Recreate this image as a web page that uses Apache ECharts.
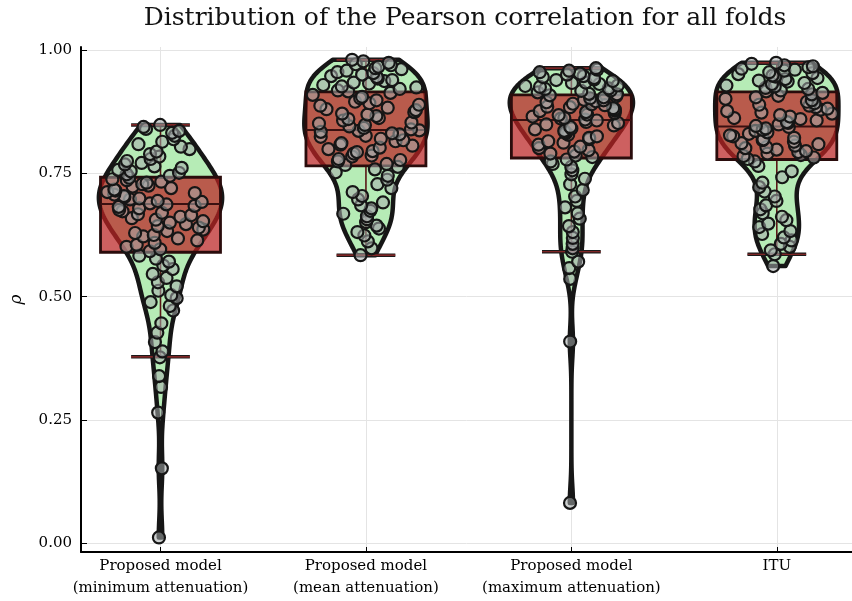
<!DOCTYPE html>
<html>
<head>
<meta charset="utf-8">
<script src="https://cdn.jsdelivr.net/npm/echarts@6/dist/echarts.min.js"></script>
<style>
  html, body { margin: 0; padding: 0; background: #fff; }
  #chart { width: 852px; height: 601px; }
</style>
</head>
<body>
<div id="chart"></div>
<script>
// categories (x axis, two-line labels)
const categories = [
    'Proposed model\n(minimum attenuation)',
    'Proposed model\n(mean attenuation)',
    'Proposed model\n(maximum attenuation)',
    'ITU'
];

const yTicks = [0, 0.25, 0.5, 0.75, 1.0];

// pearson rho per fold
const rhoMin = [
    0.012, 0.152, 0.265, 0.317, 0.339, 0.377, 0.389, 0.408, 0.427, 0.446,
    0.472, 0.481, 0.489, 0.497, 0.503, 0.512, 0.521, 0.529, 0.538, 0.546,
    0.556, 0.563, 0.571, 0.577, 0.583,
    0.592, 0.596, 0.601, 0.605, 0.609, 0.614, 0.618,
    0.622, 0.625, 0.629, 0.633, 0.636, 0.64, 0.643, 0.647, 0.65, 0.653, 0.656, 0.659,
    0.662, 0.665, 0.667, 0.67, 0.673, 0.676, 0.679, 0.682, 0.684, 0.687, 0.689, 0.692, 0.694, 0.697, 0.699,
    0.702, 0.704, 0.707, 0.71, 0.712, 0.715, 0.717, 0.72, 0.723, 0.725, 0.728, 0.731, 0.733, 0.736, 0.738, 0.741,
    0.745, 0.748, 0.751, 0.754, 0.757, 0.761, 0.764, 0.768, 0.771, 0.775, 0.779,
    0.784, 0.789, 0.794, 0.799, 0.804, 0.809, 0.814, 0.819,
    0.826, 0.832, 0.836, 0.84, 0.844, 0.848
];

const rhoMean = [
    0.584, 0.598, 0.612,
    0.624, 0.631, 0.638, 0.644, 0.651, 0.657,
    0.663, 0.668, 0.674, 0.679, 0.685, 0.691, 0.697,
    0.704, 0.712, 0.72, 0.728, 0.737, 0.745, 0.752, 0.758, 0.763,
    0.767, 0.769, 0.774, 0.777, 0.779, 0.784, 0.786, 0.79, 0.793, 0.795, 0.799, 0.802, 0.806,
    0.808, 0.811, 0.815, 0.817, 0.82, 0.824, 0.826, 0.829, 0.831, 0.834, 0.836, 0.837,
    0.839, 0.842, 0.845, 0.848, 0.851, 0.853, 0.857, 0.86, 0.862, 0.866, 0.869, 0.871, 0.874,
    0.878, 0.88, 0.883, 0.887, 0.889, 0.892, 0.895, 0.898, 0.902, 0.905, 0.909, 0.913,
    0.916, 0.918, 0.921, 0.924, 0.926, 0.929, 0.932, 0.934, 0.937, 0.939, 0.942, 0.945, 0.947,
    0.95, 0.953, 0.955, 0.958, 0.961, 0.963, 0.966, 0.969, 0.971, 0.974, 0.977, 0.98
];

const rhoMax = [
    0.082, 0.409, 0.536, 0.558, 0.571,
    0.591, 0.598, 0.607, 0.619, 0.631, 0.643, 0.658, 0.669, 0.681, 0.694, 0.703,
    0.716, 0.728, 0.739, 0.748, 0.756, 0.763, 0.769, 0.774, 0.778,
    0.783, 0.786, 0.79, 0.794, 0.797, 0.801, 0.804, 0.808, 0.812, 0.815, 0.819,
    0.822, 0.825, 0.828, 0.831, 0.833, 0.836, 0.839, 0.841, 0.844, 0.847, 0.849, 0.852, 0.854, 0.857, 0.859,
    0.861, 0.862, 0.865, 0.868, 0.869, 0.872, 0.874, 0.876, 0.877, 0.88, 0.882, 0.884,
    0.885, 0.888, 0.89, 0.891, 0.894, 0.896, 0.898, 0.899, 0.902, 0.904, 0.906, 0.908,
    0.91, 0.911, 0.914, 0.917, 0.918, 0.921, 0.922, 0.925, 0.927, 0.928, 0.931, 0.933, 0.934,
    0.937, 0.939, 0.94, 0.943, 0.945, 0.947, 0.95, 0.952, 0.955, 0.958, 0.96, 0.963
];

const rhoItu = [
    0.562, 0.586, 0.594, 0.601, 0.607, 0.614, 0.62, 0.627, 0.633, 0.641, 0.648, 0.655,
    0.662, 0.669, 0.677, 0.685, 0.694, 0.703, 0.713, 0.722, 0.731, 0.742, 0.754, 0.765, 0.774,
    0.779, 0.782, 0.785, 0.787, 0.79, 0.793, 0.795, 0.798, 0.801, 0.803, 0.806, 0.809, 0.811,
    0.814, 0.817, 0.819, 0.822, 0.825, 0.827, 0.83, 0.833, 0.836, 0.838, 0.841, 0.844,
    0.846, 0.849, 0.852, 0.854, 0.857, 0.86, 0.862, 0.865, 0.868, 0.871, 0.873, 0.876, 0.879,
    0.881, 0.884, 0.887, 0.889, 0.892, 0.895, 0.898, 0.901, 0.904, 0.907, 0.91, 0.913,
    0.916, 0.918, 0.921, 0.923, 0.926, 0.928, 0.931, 0.933, 0.936, 0.938, 0.941, 0.943, 0.946,
    0.948, 0.951, 0.953, 0.955, 0.958, 0.96, 0.962, 0.965, 0.967, 0.969, 0.972, 0.974
];

// box stats [lower whisker, q1, median, q3, upper whisker]
const boxMin = [0.378, 0.590, 0.688, 0.742, 0.848];
const boxMean = [0.584, 0.765, 0.838, 0.915, 0.980];
const boxMax = [0.591, 0.781, 0.858, 0.909, 0.963];
const boxItu = [0.586, 0.778, 0.845, 0.915, 0.974];

const groups = [rhoMin, rhoMean, rhoMax, rhoItu];
const boxes = [boxMin, boxMean, boxMax, boxItu];

const FONT = '"DejaVu Serif", serif';
const VIOLIN_HALF = 0.3;
const BOX_HALF = 0.292;
const CAP_HALF = 0.143;

function quantile(sorted, p) {
    const pos = (sorted.length - 1) * p;
    const lo = Math.floor(pos), hi = Math.ceil(pos);
    return sorted[lo] + (sorted[hi] - sorted[lo]) * (pos - lo);
}

// gaussian kde, silverman bandwidth, trimmed to the data range
function kdeProfile(vals) {
    const s = vals.slice().sort((a, b) => a - b);
    const n = s.length;
    const mean = s.reduce((a, b) => a + b, 0) / n;
    const sd = Math.sqrt(s.reduce((a, b) => a + (b - mean) * (b - mean), 0) / (n - 1));
    const iqr = quantile(s, 0.75) - quantile(s, 0.25);
    const h = 0.9 * Math.min(sd, iqr / 1.34) * Math.pow(n, -0.2);
    const lo = s[0], hi = s[n - 1];
    const ys = [], ds = [];
    for (let k = 0; k < 200; k++) {
        const y = lo + (hi - lo) * k / 199;
        let d = 0;
        s.forEach(v => { const z = (y - v) / h; d += Math.exp(-0.5 * z * z); });
        ys.push(y);
        ds.push(d);
    }
    const m = Math.max(...ds);
    return { ys: ys, ws: ds.map(d => VIOLIN_HALF * d / m) };
}

function widthAt(prof, y) {
    const ys = prof.ys;
    if (y <= ys[0]) return prof.ws[0];
    if (y >= ys[ys.length - 1]) return prof.ws[ys.length - 1];
    const t = (y - ys[0]) / (ys[ys.length - 1] - ys[0]) * (ys.length - 1);
    const k = Math.floor(t);
    return prof.ws[k] + (prof.ws[k + 1] - prof.ws[k]) * (t - k);
}

const profiles = groups.map(kdeProfile);

// dots spread sideways inside the violin (fixed hash, same every run)
function spread(i, j) {
    const h = Math.sin(j * 12.9898 + i * 78.233) * 43758.5453;
    return h - Math.floor(h);
}

const dots = [];
groups.forEach((vals, i) => {
    vals.forEach((v, j) => {
        const off = (2 * spread(i, j) - 1) * widthAt(profiles[i], v) * 0.9;
        dots.push([i + off, v]);
    });
});

function renderViolin(params, api) {
    const i = api.value(0);
    const prof = profiles[i];
    const pts = [];
    for (let k = 0; k < prof.ys.length; k++) pts.push(api.coord([i + prof.ws[k], prof.ys[k]]));
    for (let k = prof.ys.length - 1; k >= 0; k--) pts.push(api.coord([i - prof.ws[k], prof.ys[k]]));
    return {
        type: 'polygon',
        shape: { points: pts },
        style: { fill: '#b6ecb6', stroke: '#161616', lineWidth: 4.5, lineJoin: 'round' }
    };
}

function renderBox(params, api) {
    const i = api.value(0);
    const b = boxes[i];
    const p = (x, y) => api.coord([x, y]);
    const tl = p(i - BOX_HALF, b[3]), br = p(i + BOX_HALF, b[1]);
    const line = (a, c, color, w) => ({
        type: 'line',
        shape: { x1: a[0], y1: a[1], x2: c[0], y2: c[1] },
        style: { stroke: color, lineWidth: w }
    });
    return {
        type: 'group',
        children: [
            line(p(i, b[0]), p(i, b[1]), '#5a1616', 1.6),
            line(p(i, b[3]), p(i, b[4]), '#5a1616', 1.6),
            line(p(i - CAP_HALF, b[0]), p(i + CAP_HALF, b[0]), '#1a1a1a', 3.5),
            line(p(i - CAP_HALF, b[0]), p(i + CAP_HALF, b[0]), '#a02a2a', 1.2),
            line(p(i - CAP_HALF, b[4]), p(i + CAP_HALF, b[4]), '#1a1a1a', 3.5),
            line(p(i - CAP_HALF, b[4]), p(i + CAP_HALF, b[4]), '#a02a2a', 1.2),
            {
                type: 'rect',
                shape: { x: tl[0], y: tl[1], width: br[0] - tl[0], height: br[1] - tl[1] },
                style: { fill: 'rgba(186, 34, 34, 0.72)', stroke: '#2a0c0c', lineWidth: 2.8 }
            },
            line(p(i - BOX_HALF, b[2]), p(i + BOX_HALF, b[2]), '#3a1010', 2)
        ]
    };
}

const chart = echarts.init(document.getElementById('chart'), null, { renderer: 'canvas' });

chart.setOption({
    backgroundColor: '#ffffff',
    animation: false,
    graphic: [{
        type: 'text',
        x: 465,
        y: 18,
        style: {
            text: 'Distribution of the Pearson correlation for all folds',
            font: '25px ' + FONT,
            fill: '#111',
            align: 'center',
            verticalAlign: 'middle'
        }
    }],
    grid: { left: 77, right: 0, top: 47, bottom: 49 },
    xAxis: {
        type: 'value',
        min: -0.387,
        max: 3.366,
        axisLine: { onZero: false, lineStyle: { color: '#000', width: 2 } },
        axisTick: { customValues: [0, 1, 2, 3], inside: true, length: 5, lineStyle: { color: '#000' } },
        axisLabel: {
            customValues: [0, 1, 2, 3],
            formatter: v => categories[Math.round(v)],
            fontFamily: FONT,
            fontSize: 15,
            lineHeight: 22,
            color: '#000',
            margin: 3
        },
        splitLine: { show: true, lineStyle: { color: '#e4e4e4', width: 1 } }
    },
    yAxis: {
        type: 'value',
        min: -0.0175,
        max: 1.006,
        name: 'ρ',
        nameLocation: 'middle',
        nameGap: 56,
        nameTextStyle: { fontFamily: FONT, fontSize: 17, fontStyle: 'italic', color: '#000' },
        axisLine: { show: true, onZero: false, lineStyle: { color: '#000', width: 2 } },
        axisTick: { show: true, customValues: yTicks, inside: true, length: 6, lineStyle: { color: '#000' } },
        axisLabel: {
            customValues: yTicks,
            formatter: v => v.toFixed(2),
            fontFamily: FONT,
            fontSize: 15,
            color: '#000',
            margin: 9
        },
        splitLine: { show: true, lineStyle: { color: '#e4e4e4', width: 1 } }
    },
    series: [
        {
            type: 'custom',
            name: 'violin',
            renderItem: renderViolin,
            data: groups.map((g, i) => [i, boxes[i][2]]),
            z: 2,
            clip: true
        },
        {
            type: 'custom',
            name: 'box',
            renderItem: renderBox,
            data: boxes.map((b, i) => [i, b[2]]),
            z: 3,
            clip: true
        },
        {
            type: 'scatter',
            name: 'folds',
            data: dots,
            symbol: 'circle',
            symbolSize: 12,
            itemStyle: { color: 'rgba(165, 172, 172, 0.55)', borderColor: '#161616', borderWidth: 2.2, opacity: 1 },
            z: 4
        }
    ]
});
</script>
</body>
</html>
